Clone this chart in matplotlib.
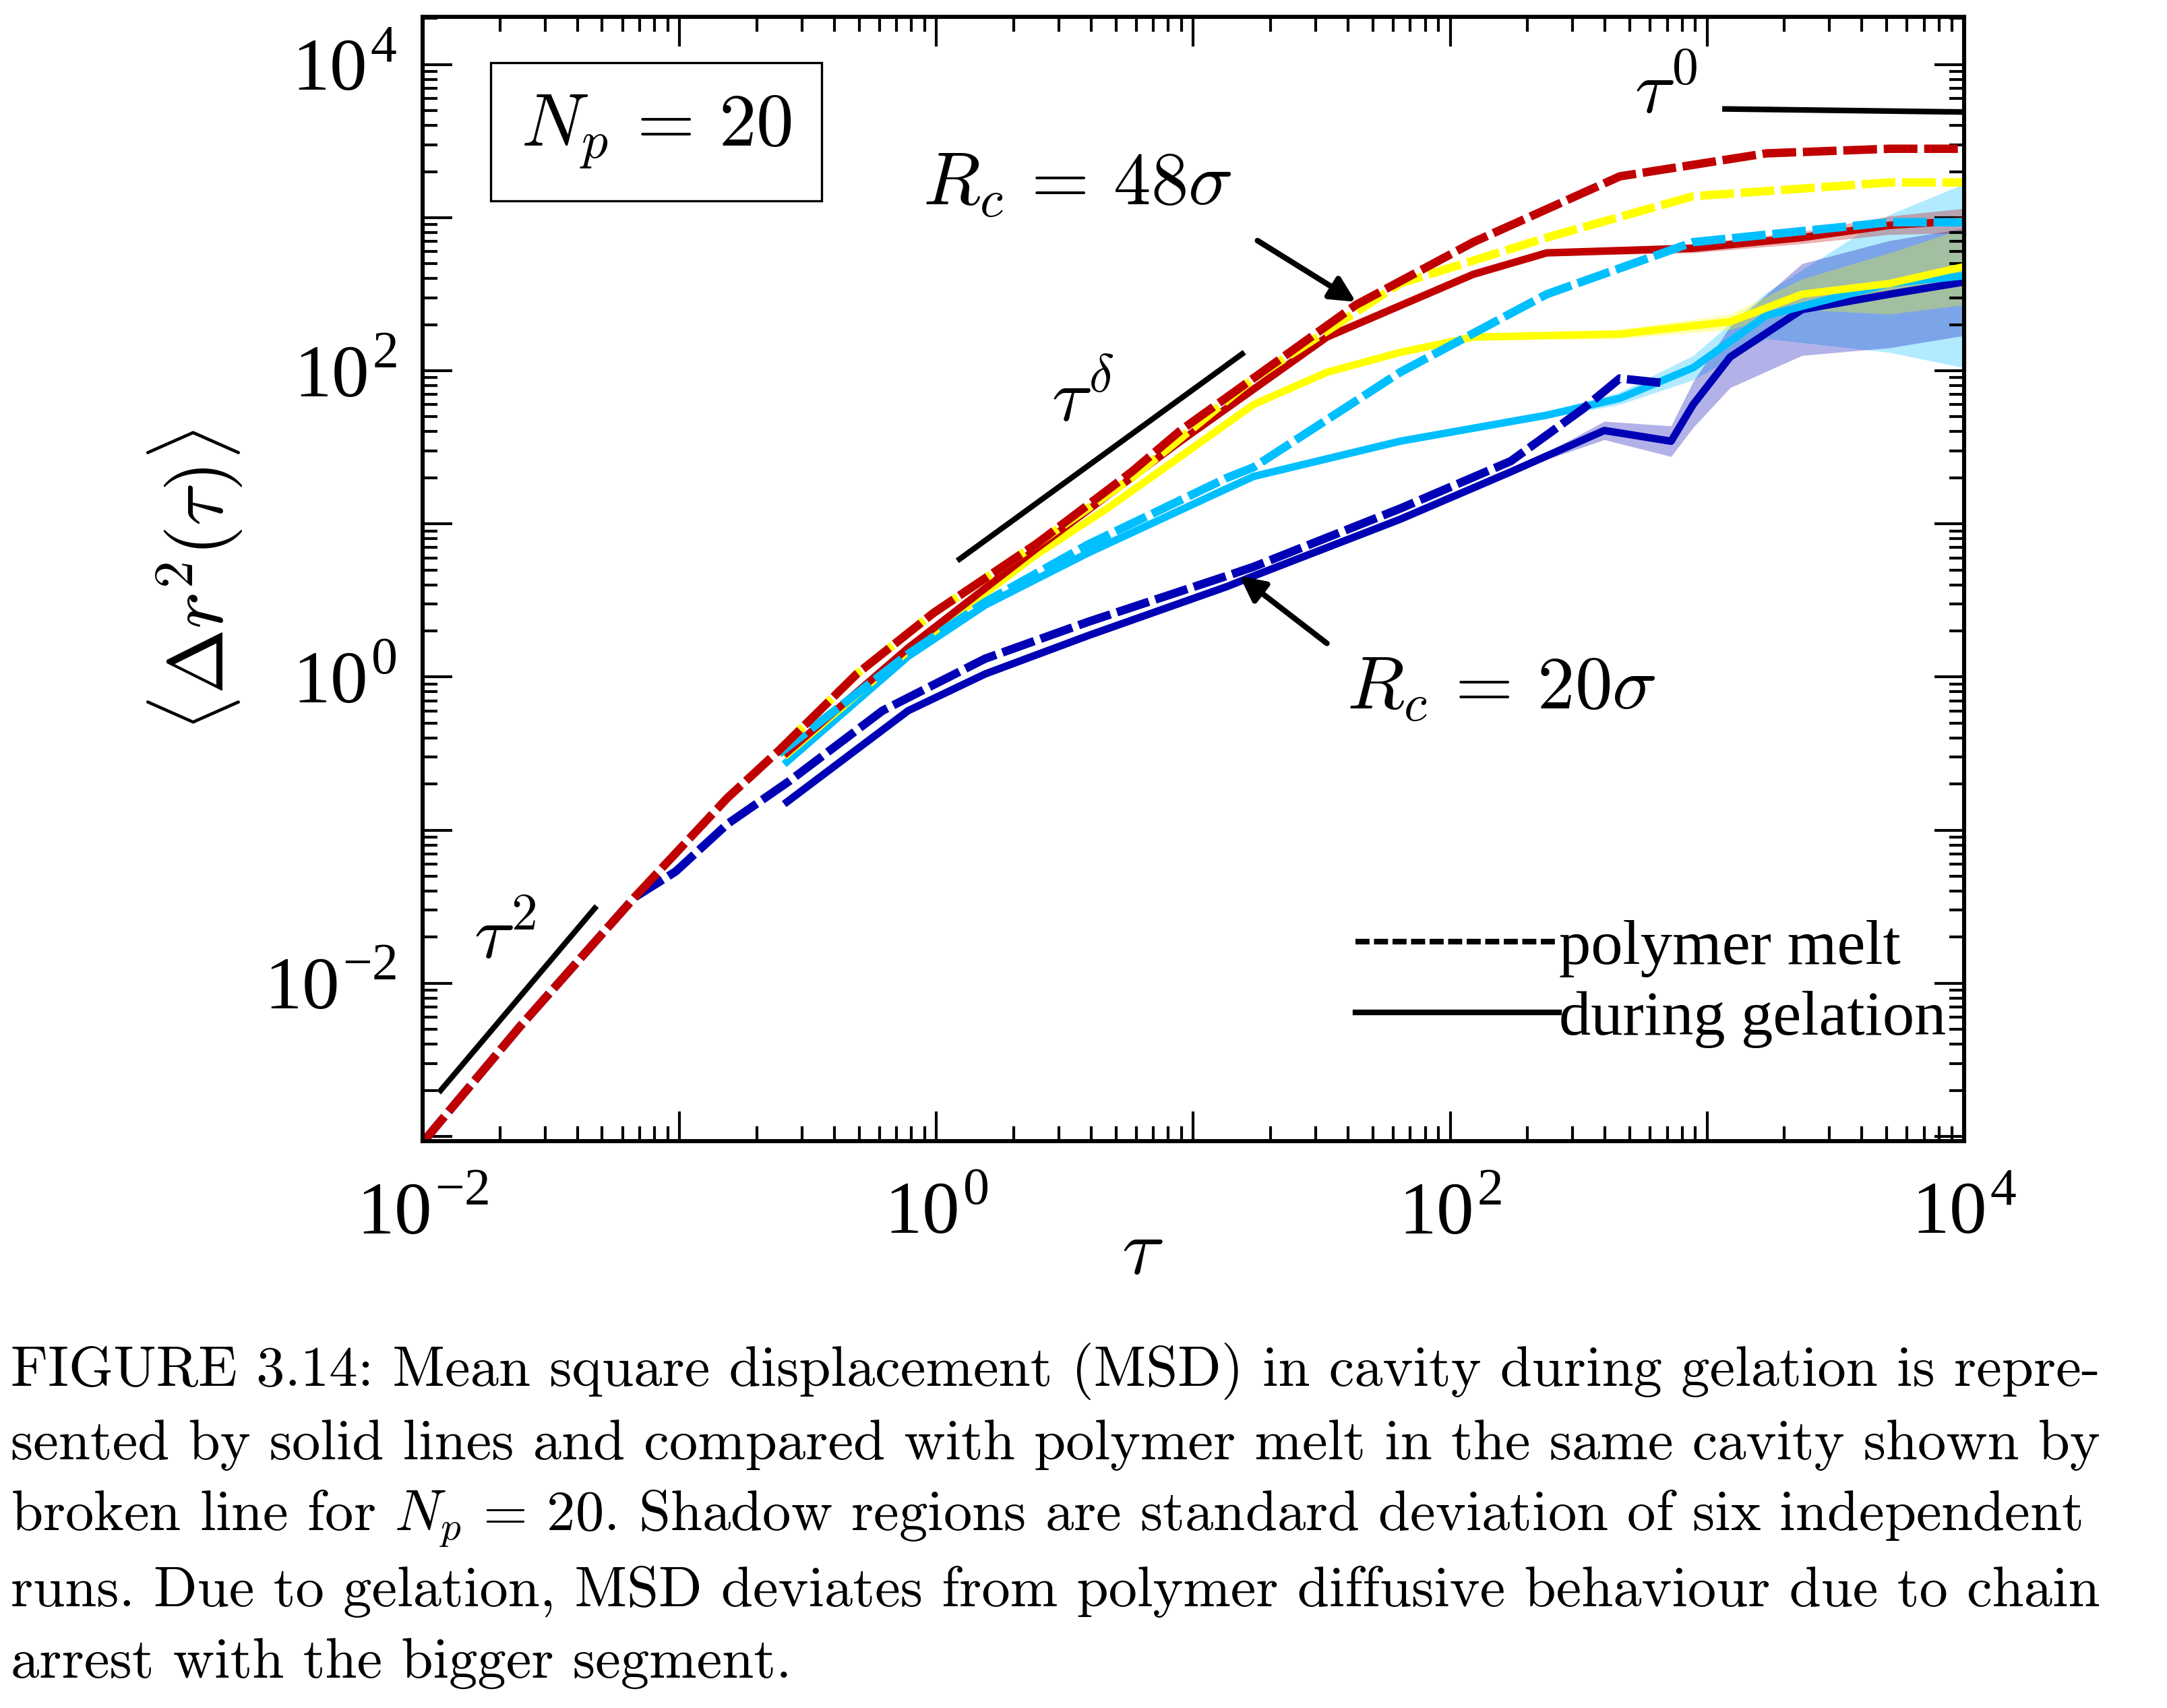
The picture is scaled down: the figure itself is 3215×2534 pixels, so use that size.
import numpy as np
import matplotlib
matplotlib.use("Agg")
import matplotlib.pyplot as plt
from matplotlib.ticker import FixedLocator, LogLocator, NullFormatter, FuncFormatter
from matplotlib.lines import Line2D

plt.rcParams['mathtext.fontset'] = 'cm'
plt.rcParams['font.family'] = ['Liberation Serif', 'DejaVu Serif']
plt.rcParams['axes.unicode_minus'] = False

# ---- data (log10 values) ----
melt_red_lx = [-2.0, -1.62, -1.176, -0.814, -0.613, -0.31, -0.01, 0.39, 0.76, 0.95, 1.633, 2.09, 2.661, 3.231, 3.71, 4.0]
melt_red_ly = [-3.04, -2.28, -1.44, -0.79, -0.48, 0.02, 0.42, 0.87, 1.34, 1.61, 2.43, 2.84, 3.27, 3.42, 3.45, 3.45]
melt_yel_lx = [-0.613, -0.31, -0.01, 0.39, 0.76, 1.235, 1.805, 2.376, 2.946, 3.71, 4.0]
melt_yel_ly = [-0.48, 0.02, 0.42, 0.87, 1.30, 1.95, 2.57, 2.87, 3.14, 3.23, 3.23]
melt_cya_lx = [-0.613, -0.11, 0.19, 0.59, 1.13, 1.235, 1.805, 2.376, 2.946, 3.71, 4.0]
melt_cya_ly = [-0.50, 0.15, 0.49, 0.865, 1.30, 1.37, 1.99, 2.50, 2.84, 2.97, 2.97]
melt_blu_lx = [-2.0, -1.62, -1.176, -1.015, -0.814, -0.573, -0.21, 0.19, 0.59, 1.13, 1.235, 1.805, 2.236, 2.516, 2.66, 2.83]
melt_blu_ly = [-3.04, -2.28, -1.44, -1.27, -0.96, -0.68, -0.22, 0.12, 0.36, 0.66, 0.72, 1.10, 1.41, 1.75, 1.95, 1.92]

gel_red_lx = [-0.593, -0.11, 0.39, 0.79, 0.95, 1.52, 2.09, 2.376, 2.946, 3.37, 3.71, 4.0]
gel_red_ly = [-0.51, 0.19, 0.84, 1.34, 1.54, 2.22, 2.63, 2.77, 2.80, 2.87, 2.95, 2.98]
gel_yel_lx = [-0.593, -0.11, 0.39, 0.664, 0.95, 1.235, 1.52, 1.805, 2.09, 2.66, 3.09, 3.37, 3.71, 4.0]
gel_yel_ly = [-0.52, 0.17, 0.80, 1.10, 1.44, 1.78, 1.99, 2.12, 2.22, 2.24, 2.32, 2.50, 2.57, 2.68]
gel_cya_lx = [-0.593, -0.11, 0.19, 0.59, 1.13, 1.235, 1.805, 2.376, 2.66, 2.946, 3.23, 3.71, 4.0]
gel_cya_ly = [-0.57, 0.135, 0.47, 0.81, 1.23, 1.31, 1.54, 1.71, 1.82, 2.02, 2.36, 2.57, 2.62]
gel_blu_lx = [-0.593, -0.11, 0.19, 0.59, 1.13, 1.235, 1.805, 2.236, 2.60, 2.86, 2.946, 3.09, 3.37, 3.71, 4.0]
gel_blu_ly = [-0.83, -0.22, 0.02, 0.27, 0.59, 0.66, 1.03, 1.34, 1.61, 1.54, 1.78, 2.09, 2.40, 2.50, 2.58]
# shadow half-widths (log10) at the gelation points
gel_red_sd = [0, 0, 0, 0, 0, 0, 0.01, 0.02, 0.03, 0.04, 0.06, 0.08]
gel_yel_sd = [0, 0, 0, 0, 0, 0, 0, 0, 0.02, 0.03, 0.05, 0.10, 0.20, 0.25]
gel_cya_sd = [0, 0, 0, 0, 0, 0, 0, 0.02, 0.04, 0.08, 0.15, 0.45, 0.60]
gel_blu_sd = [0, 0, 0, 0, 0, 0, 0, 0, 0.06, 0.10, 0.15, 0.20, 0.30, 0.35, 0.35]

red, yel, cya, blu = '#c00000', '#ffff00', '#00bfff', '#0000b4'

fig = plt.figure(figsize=(16.08, 12.67), dpi=200)
ax = fig.add_axes([0.195, 0.332, 0.711, 0.658])
ax.set_xscale('log'); ax.set_yscale('log')
ax.set_xlim(1e-2, 1e4); ax.set_ylim(10**-3.03, 10**4.31)

P = lambda a: 10 ** np.array(a)

for lx, ly, sd, c in [(gel_cya_lx, gel_cya_ly, gel_cya_sd, cya),
                      (gel_blu_lx, gel_blu_ly, gel_blu_sd, blu),
                      (gel_yel_lx, gel_yel_ly, gel_yel_sd, yel),
                      (gel_red_lx, gel_red_ly, gel_red_sd, red)]:
    ly = np.array(ly); sd = np.array(sd)
    ax.fill_between(P(lx), 10 ** (ly - sd), 10 ** (ly + sd), color=c, alpha=0.3, lw=0)

for lx, ly, c in [(gel_blu_lx, gel_blu_ly, blu), (gel_cya_lx, gel_cya_ly, cya),
                  (gel_yel_lx, gel_yel_ly, yel), (gel_red_lx, gel_red_ly, red)]:
    ax.plot(P(lx), P(ly), color=c, lw=4, solid_capstyle='butt', solid_joinstyle='round')

for lx, ly, c in [(melt_blu_lx, melt_blu_ly, blu), (melt_cya_lx, melt_cya_ly, cya),
                  (melt_yel_lx, melt_yel_ly, yel), (melt_red_lx, melt_red_ly, red)]:
    ax.plot(P(lx), P(ly), color=c, lw=4.5, dashes=(4, 0.8), dash_joinstyle='round')

# guide lines
ax.plot(P([-1.93, -1.33]), P([-2.70, -1.51]), color='k', lw=3)
ax.plot(P([0.09, 1.19]), P([0.77, 2.11]), color='k', lw=3)
ax.plot(P([3.07, 4.0]), P([3.71, 3.69]), color='k', lw=3)

ts = 40
ax.text(P(-1.68), P(-1.72), r'$\tau^2$', fontsize=ts, ha='center', va='center')
ax.text(P(0.57), P(1.80), r'$\tau^\delta$', fontsize=ts, ha='center', va='center')
ax.text(P(2.84), P(3.80), r'$\tau^0$', fontsize=ts, ha='center', va='center')
ax.text(P(0.55), P(3.20), r'$R_c\,=\,48\sigma$', fontsize=ts, ha='center', va='center')
ax.text(P(2.20), P(-0.09), r'$R_c\,=\,20\sigma$', fontsize=ts, ha='center', va='center')
arrow = dict(arrowstyle='-|>', color='k', lw=3, mutation_scale=28, shrinkA=0, shrinkB=0)
ax.annotate('', xy=(P(1.633), P(2.45)), xytext=(P(1.25), P(2.85)), arrowprops=arrow)
ax.annotate('', xy=(P(1.18), P(0.66)), xytext=(P(1.52), P(0.22)), arrowprops=arrow)
ax.text(P(-1.09), P(3.56), r'$N_p\,=\,20$', fontsize=ts, ha='center', va='center',
        bbox=dict(boxstyle='square,pad=0.4', fc='white', ec='k', lw=1.2))

handles = [Line2D([], [], color='k', lw=3, dashes=(2.5, 0.8)), Line2D([], [], color='k', lw=3)]
leg = ax.legend(handles, ['polymer melt', 'during gelation'], loc='lower right',
          bbox_to_anchor=(1.005, 0.06), frameon=False, fontsize=34, handlelength=3.2,
          handletextpad=0.0, labelspacing=0.2, borderaxespad=0.0)

ax.xaxis.set_major_locator(FixedLocator([10.0 ** k for k in range(-2, 5)]))
ax.yaxis.set_major_locator(FixedLocator([10.0 ** k for k in range(-3, 5)]))
for a in (ax.xaxis, ax.yaxis):
    a.set_minor_locator(LogLocator(base=10, subs=np.arange(2, 10), numticks=50))
    a.set_minor_formatter(NullFormatter())
fmt = FuncFormatter(lambda v, p: ('10$^{\\mathregular{%d}}$' % round(np.log10(v))) if round(np.log10(v)) % 2 == 0 else '')
ax.xaxis.set_major_formatter(fmt); ax.yaxis.set_major_formatter(fmt)
ax.tick_params(which='both', direction='in', top=True, right=True, width=1.5)
ax.tick_params(which='major', length=16, labelsize=40, pad=14)
ax.tick_params(which='minor', length=8)
ax.tick_params(axis='x', which='major', pad=22)
for s in ax.spines.values():
    s.set_linewidth(2.2)

fig.text(0.527, 0.265, r'$\tau$', fontsize=42, ha='center', va='center')
fig.text(0.09, 0.66, r'$\langle\Delta r^2(\tau)\rangle$', fontsize=42, rotation=90,
         ha='center', va='center')

cap = ["FIGURE 3.14: Mean square displacement (MSD) in cavity during gelation is repre-",
       "sented by solid lines and compared with polymer melt in the same cavity shown by",
       r"broken line for $N_p$ = 20. Shadow regions are standard deviation of six independent",
       "runs. Due to gelation, MSD deviates from polymer diffusive behaviour due to chain",
       "arrest with the bigger segment."]
for t, y in zip(cap, [0.197, 0.154, 0.111, 0.068, 0.026]):
    fig.text(0.005, y, t, fontsize=30.5, ha='left', va='center', family='cmr10')

fig.savefig('out.png', dpi=200)
